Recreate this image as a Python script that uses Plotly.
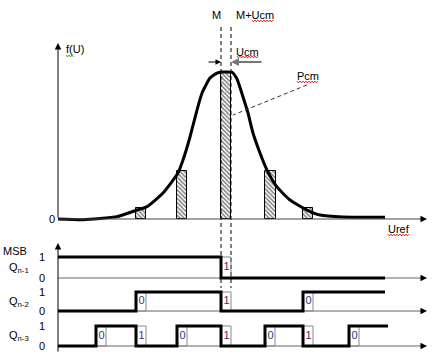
import plotly.graph_objects as go

# ---------------- data ----------------
# distribution curve f(U): U positions and normalised f values
curve_u = [58, 83, 117, 137, 147, 163, 178, 183, 190, 197, 202, 210, 217, 222, 226,
           232, 237, 243, 248, 253, 260, 267, 277, 290, 307, 320, 343, 385]
curve_f = [0.0, -0.005, 0.016, 0.061, 0.084, 0.177, 0.313, 0.401, 0.558, 0.741, 0.857,
           0.959, 0.993, 1.0, 1.0, 0.998, 0.952, 0.830, 0.721, 0.585, 0.449, 0.333,
           0.218, 0.129, 0.061, 0.027, 0.014, 0.012]

# hatched bars (Pcm): left edge, width (Ucm) and height
bar_left = [136, 177, 221, 265, 303]
bar_width = [10, 10, 10, 11, 10]
bar_height = [0.075, 0.327, 1.0, 0.327, 0.075]

# digital outputs: step positions and logic levels
q1_x = [58, 221, 385]
q1_y = [1, 0, 0]
q2_x = [58, 136, 221, 303, 385]
q2_y = [0, 1, 0, 1, 1]
q3_x = [58, 96, 136, 177, 221, 265, 303, 349, 388]
q3_y = [0, 1, 0, 1, 0, 1, 0, 1, 1]

# comparison windows (width Ucm) with the bit shown in them
q1_box = [221]
q1_bits = ["1"]
q2_box = [136, 221, 303]
q2_bits = ["0", "1", "0"]
q3_box = [96, 136, 177, 221, 265, 303, 349]
q3_bits = ["0", "1", "0", "1", "0", "1", "0"]

M_pos = 221
M_ucm_pos = 231
U_start = 58
U_end = 427

# ---------------- layout helpers ----------------
W, H = 432, 358
FONT = "Liberation Sans, Arial, sans-serif"


def yrange(zero_px, one_px):
    span = H / (zero_px - one_px)
    r0 = -(1 - zero_px / H) * span
    return [r0, r0 + span]


fig = go.Figure()

# ---------- top panel: f(U) ----------
fig.add_trace(go.Bar(
    x=[l + w / 2 for l, w in zip(bar_left, bar_width)], y=bar_height, width=bar_width,
    marker=dict(color="white", line=dict(color="black", width=1),
                pattern=dict(shape="\\", fgcolor="black", bgcolor="white",
                             size=3, solidity=0.5, fillmode="overlay")),
    yaxis="y", showlegend=False, hoverinfo="skip"))

fig.add_trace(go.Scatter(x=curve_u, y=curve_f, mode="lines",
                         line=dict(color="black", width=3, shape="spline", smoothing=0.5),
                         yaxis="y", showlegend=False, hoverinfo="skip"))

# dashed M and M+Ucm lines
for xv in (M_pos, M_ucm_pos):
    fig.add_trace(go.Scatter(x=[xv, xv], y=[1.306, -0.469], mode="lines",
                             line=dict(color="black", width=1, dash="4px,3px"),
                             yaxis="y", showlegend=False, hoverinfo="skip"))

# Pcm leader
fig.add_trace(go.Scatter(x=[307, 233], y=[0.912, 0.707], mode="lines",
                         line=dict(color="#333", width=1, dash="4px,3px"),
                         yaxis="y", showlegend=False, hoverinfo="skip"))

# baseline of top panel
fig.add_trace(go.Scatter(x=[U_start, U_end - 6], y=[0, 0], mode="lines",
                         line=dict(color="#444", width=1),
                         yaxis="y", showlegend=False, hoverinfo="skip"))

# ---------- bottom panels ----------
rows = [
    ("y2", q1_x, q1_y, q1_box, q1_bits),
    ("y3", q2_x, q2_y, q2_box, q2_bits),
    ("y4", q3_x, q3_y, q3_box, q3_bits),
]
for ax, sx, sy, boxes, bits in rows:
    # gray baseline
    fig.add_trace(go.Scatter(x=[U_start, U_end - 6], y=[0, 0], mode="lines",
                             line=dict(color="#666", width=1),
                             yaxis=ax, showlegend=False, hoverinfo="skip"))
    # window boxes
    bx, by = [], []
    for b in boxes:
        bx += [b, b + 10, b + 10, b, b, None]
        by += [0, 0, 1, 1, 0, None]
    fig.add_trace(go.Scatter(x=bx, y=by, mode="lines",
                             line=dict(color="#888", width=1),
                             yaxis=ax, showlegend=False, hoverinfo="skip"))
    # signal
    fig.add_trace(go.Scatter(x=sx, y=sy, mode="lines",
                             line=dict(color="black", width=3, shape="hv"),
                             yaxis=ax, showlegend=False, hoverinfo="skip"))
    # bit digits
    fig.add_trace(go.Scatter(x=[b + 5.5 for b in boxes], y=[0.5] * len(boxes), mode="text",
                             text=bits,
                             textfont=dict(family=FONT, size=11,
                                           color=["#5a1a6a" if t == "1" else "#1f3a7a" for t in bits]),
                             yaxis=ax, showlegend=False, hoverinfo="skip"))

# ---------- arrows (axes) ----------
ann = []


def arrow(x, y, ax, ay, yref, color="black", width=1, head=1.0):
    ann.append(dict(x=x, y=y, ax=ax, ay=ay, xref="x", yref=yref, axref="x", ayref=yref,
                    text="", showarrow=True, arrowhead=2, arrowsize=head,
                    arrowwidth=width, arrowcolor=color, standoff=0, startstandoff=0))


arrow(U_start, 1.197, U_start, 0, "y", head=1.3)           # f(U) axis
arrow(U_end, 0, U_end - 8, 0, "y", head=1.3)               # Uref axis
arrow(U_start, 5.15, U_start, -0.35, "y4", head=1.3)       # bottom vertical axis
for ax in ("y2", "y3", "y4"):
    arrow(U_end, 0, U_end - 8, 0, ax, head=1.3)
arrow(M_pos, 1.068, 207, 1.068, "y", head=1.1)             # Ucm arrows
arrow(M_ucm_pos, 1.068, 263, 1.068, "y", color="#777", width=2, head=0.8)


def label(x, y, text, yref, xanchor="center", size=11, color="black"):
    ann.append(dict(x=x, y=y, xref="x", yref=yref, text=text, showarrow=False,
                    xanchor=xanchor, yanchor="middle",
                    font=dict(family=FONT, size=size, color=color)))


label(216.5, 1.388, "M", "y")
label(254.6, 1.388, "M+Ucm", "y")
label(247, 1.136, "Ucm", "y")
label(307.5, 0.973, "Pcm", "y")
label(74.5, 1.156, "f(U)", "y")
label(52, 0.0, "0", "y")
label(399, -0.068, "Uref", "y")

label(15, 1.29, "MSB", "y2")
label(19, 0.48, "Q<sub>n-1</sub>", "y2")
label(19, 0.47, "Q<sub>n-2</sub>", "y3")
label(19, 0.5, "Q<sub>n-3</sub>", "y4")
for ax in ("y2", "y3", "y4"):
    label(42, 1, "1", ax)
    label(42, 0, "0", ax)

# ---------- spell-check style wavy underlines (decoration) ----------
shapes = []


def wave(x0, x1, py, color):
    pts = []
    x = x0
    up = True
    while x <= x1:
        yy = 1 - (py + (-0.8 if up else 0.8)) / H
        pts.append("%s%.2f,%.5f" % ("M" if not pts else "L", x, yy))
        x += 1.5
        up = not up
    shapes.append(dict(type="path", path=" ".join(pts), xref="x", yref="paper",
                       line=dict(color=color, width=1)))


wave(252, 273, 21, "#e00000")
wave(237, 258, 57, "#e00000")
wave(297, 318, 82, "#e00000")
wave(388, 410, 235, "#e00000")
wave(66, 74, 56, "#00a000")

hidden = dict(visible=False, showgrid=False, zeroline=False, fixedrange=True)
fig.update_layout(
    width=W, height=H,
    margin=dict(l=0, r=0, t=0, b=0),
    paper_bgcolor="white", plot_bgcolor="white",
    xaxis=dict(range=[0, W], domain=[0, 1], **hidden),
    yaxis=dict(range=yrange(219, 72), domain=[0, 1], **hidden),
    yaxis2=dict(range=yrange(278, 257), domain=[0, 1], overlaying="y", **hidden),
    yaxis3=dict(range=yrange(311, 292), domain=[0, 1], overlaying="y", **hidden),
    yaxis4=dict(range=yrange(346, 326), domain=[0, 1], overlaying="y", **hidden),
    annotations=ann,
    shapes=shapes,
    showlegend=False,
    bargap=0,
)

fig.write_html("out.html", config={"displayModeBar": False},
               post_script="document.body.style.margin='0';document.body.style.overflow='hidden';")
